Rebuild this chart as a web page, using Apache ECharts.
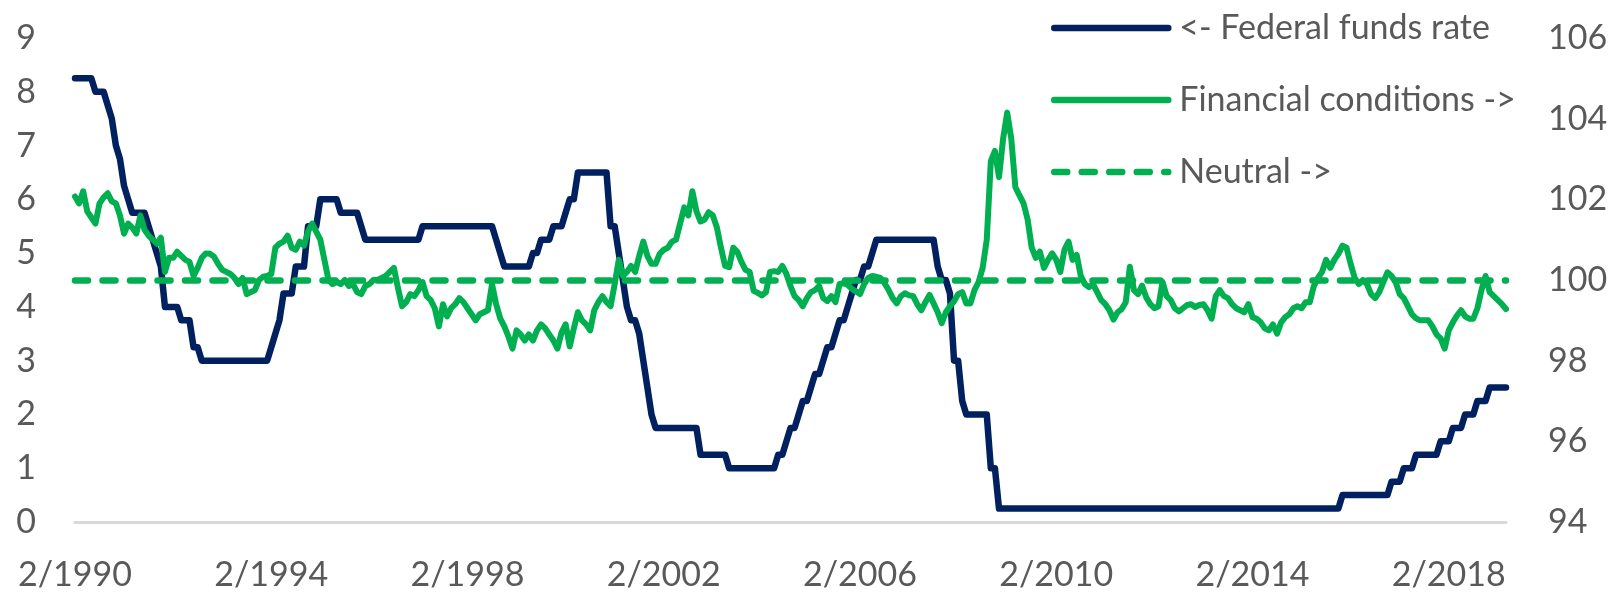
<!DOCTYPE html>
<html>
<head>
<meta charset="utf-8">
<script src="https://cdn.jsdelivr.net/npm/echarts@6/dist/echarts.min.js"></script>
<style>
  html, body { margin: 0; padding: 0; background: #ffffff; }
  #chart { width: 1612px; height: 595px; }
</style>
</head>
<body>
<div id="chart"></div>
<script>
// Monthly observations, February 1990 through April 2019
const START_YEAR = 1990;
const START_MONTH = 2;
const MONTH_COUNT = 351;

// Federal funds target rate (upper bound after 2008), end of month, %
const FED_FUNDS = [
  8.25, 8.25, 8.25, 8.25, 8.25, 8, 8, 8, 7.75, 7.5, 7,
  6.75, 6.25, 6, 5.75, 5.75, 5.75, 5.75, 5.5, 5.25, 5, 4.75, 4,
  4, 4, 4, 3.75, 3.75, 3.75, 3.25, 3.25, 3, 3, 3, 3,
  3, 3, 3, 3, 3, 3, 3, 3, 3, 3, 3, 3,
  3, 3.25, 3.5, 3.75, 4.25, 4.25, 4.25, 4.75, 4.75, 4.75, 5.5, 5.5,
  5.5, 6, 6, 6, 6, 6, 5.75, 5.75, 5.75, 5.75, 5.75, 5.5,
  5.25, 5.25, 5.25, 5.25, 5.25, 5.25, 5.25, 5.25, 5.25, 5.25, 5.25, 5.25,
  5.25, 5.25, 5.5, 5.5, 5.5, 5.5, 5.5, 5.5, 5.5, 5.5, 5.5, 5.5,
  5.5, 5.5, 5.5, 5.5, 5.5, 5.5, 5.5, 5.5, 5.25, 5, 4.75, 4.75,
  4.75, 4.75, 4.75, 4.75, 4.75, 5, 5, 5.25, 5.25, 5.25, 5.5, 5.5,
  5.5, 5.75, 6, 6, 6.5, 6.5, 6.5, 6.5, 6.5, 6.5, 6.5, 6.5,
  5.5, 5.5, 5, 4.5, 4, 3.75, 3.75, 3.5, 3, 2.5, 2, 1.75,
  1.75, 1.75, 1.75, 1.75, 1.75, 1.75, 1.75, 1.75, 1.75, 1.75, 1.25, 1.25,
  1.25, 1.25, 1.25, 1.25, 1.25, 1, 1, 1, 1, 1, 1, 1,
  1, 1, 1, 1, 1, 1.25, 1.25, 1.5, 1.75, 1.75, 2, 2.25,
  2.25, 2.5, 2.75, 2.75, 3, 3.25, 3.25, 3.5, 3.75, 3.75, 4, 4.25,
  4.5, 4.5, 4.75, 4.75, 5, 5.25, 5.25, 5.25, 5.25, 5.25, 5.25, 5.25,
  5.25, 5.25, 5.25, 5.25, 5.25, 5.25, 5.25, 5.25, 4.75, 4.5, 4.5, 4.25,
  3, 3, 2.25, 2, 2, 2, 2, 2, 2, 1, 1, 0.25,
  0.25, 0.25, 0.25, 0.25, 0.25, 0.25, 0.25, 0.25, 0.25, 0.25, 0.25, 0.25,
  0.25, 0.25, 0.25, 0.25, 0.25, 0.25, 0.25, 0.25, 0.25, 0.25, 0.25, 0.25,
  0.25, 0.25, 0.25, 0.25, 0.25, 0.25, 0.25, 0.25, 0.25, 0.25, 0.25, 0.25,
  0.25, 0.25, 0.25, 0.25, 0.25, 0.25, 0.25, 0.25, 0.25, 0.25, 0.25, 0.25,
  0.25, 0.25, 0.25, 0.25, 0.25, 0.25, 0.25, 0.25, 0.25, 0.25, 0.25, 0.25,
  0.25, 0.25, 0.25, 0.25, 0.25, 0.25, 0.25, 0.25, 0.25, 0.25, 0.25, 0.25,
  0.25, 0.25, 0.25, 0.25, 0.25, 0.25, 0.25, 0.25, 0.25, 0.25, 0.25, 0.5,
  0.5, 0.5, 0.5, 0.5, 0.5, 0.5, 0.5, 0.5, 0.5, 0.5, 0.5, 0.75,
  0.75, 0.75, 1, 1, 1, 1.25, 1.25, 1.25, 1.25, 1.25, 1.25, 1.5,
  1.5, 1.5, 1.75, 1.75, 1.75, 2, 2, 2, 2.25, 2.25, 2.25, 2.5,
  2.5, 2.5, 2.5, 2.5
];

// Financial conditions index, monthly (right axis)
const FIN_CONDITIONS = [
  102.07, 101.9, 102.2, 101.7, 101.55, 101.4, 101.9, 102.05, 102.15, 101.95, 101.9,
  101.6, 101.15, 101.4, 101.3, 101.15, 101.6, 101.25, 101.1, 101.0, 100.9, 101.05, 100.2,
  100.55, 100.55, 100.7, 100.6, 100.5, 100.45, 100.1, 100.3, 100.55, 100.66, 100.65, 100.58,
  100.4, 100.25, 100.2, 100.15, 100.05, 99.9, 100.05, 99.65, 99.7, 99.75, 100.0, 100.08,
  100.1, 100.15, 100.8, 100.9, 100.95, 101.1, 100.8, 100.75, 100.95, 100.85, 101.2, 101.4,
  101.2, 101.0, 100.5, 100.0, 99.9, 99.95, 99.9, 100.0, 99.85, 99.9, 99.7, 99.65,
  99.85, 99.9, 100.0, 100.0, 100.05, 100.1, 100.2, 100.3, 99.8, 99.35, 99.45, 99.65,
  99.6, 99.75, 99.95, 99.6, 99.5, 99.3, 98.85, 99.4, 99.1, 99.3, 99.4, 99.55,
  99.45, 99.3, 99.15, 99.0, 99.15, 99.2, 99.25, 99.9, 99.4, 99.05, 98.85, 98.6,
  98.3, 98.75, 98.65, 98.5, 98.65, 98.5, 98.75, 98.9, 98.8, 98.65, 98.5, 98.3,
  98.7, 98.9, 98.35, 98.8, 99.2, 99.0, 98.9, 98.75, 99.25, 99.45, 99.6, 99.45,
  99.35, 99.9, 100.5, 100.1, 100.2, 100.35, 100.2, 100.6, 100.95, 100.6, 100.4, 100.4,
  100.65, 100.75, 100.8, 100.95, 101.0, 101.4, 101.8, 101.6, 102.2, 101.7, 101.45, 101.5,
  101.68, 101.6, 101.3, 100.8, 100.35, 100.32, 100.8, 100.7, 100.45, 100.25, 100.2, 99.73,
  99.68, 99.62, 99.7, 100.2, 100.22, 100.2, 100.35, 100.15, 99.85, 99.6, 99.5, 99.35,
  99.55, 99.7, 99.75, 99.85, 99.55, 99.48, 99.6, 99.45, 99.9, 99.92, 99.88, 99.78,
  99.72, 99.65, 99.9, 100.05, 100.1, 100.08, 100.05, 99.92, 99.75, 99.55, 99.42, 99.6,
  99.67, 99.62, 99.6, 99.4, 99.25, 99.45, 99.63, 99.42, 99.2, 98.93, 99.2, 99.35,
  99.47, 99.65, 99.7, 99.42, 99.42, 99.75, 99.95, 100.3, 101.0, 102.95, 103.2, 102.55,
  103.5, 104.15, 103.5, 102.3, 102.1, 101.9, 101.5, 100.8, 100.55, 100.7, 100.3, 100.5,
  100.66, 100.5, 100.2, 100.75, 100.95, 100.5, 100.62, 100.1, 99.9, 99.82, 99.9, 99.7,
  99.5, 99.4, 99.25, 99.02, 99.2, 99.28, 99.45, 100.33, 99.75, 99.65, 99.86, 99.57,
  99.4, 99.3, 99.35, 99.95, 99.6, 99.5, 99.3, 99.22, 99.3, 99.38, 99.4, 99.33,
  99.38, 99.4, 99.25, 99.04, 99.6, 99.75, 99.6, 99.55, 99.4, 99.3, 99.25, 99.2,
  99.4, 99.08, 99.04, 98.95, 98.8, 98.75, 98.9, 98.67, 98.95, 99.08, 99.15, 99.3,
  99.35, 99.3, 99.45, 99.45, 99.85, 100.05, 100.2, 100.5, 100.3, 100.5, 100.65, 100.85,
  100.8, 100.4, 100.05, 99.9, 100.0, 99.9, 99.65, 99.55, 99.7, 99.95, 100.19, 100.1,
  99.95, 99.65, 99.55, 99.35, 99.15, 99.05, 99.0, 99.0, 99.0, 98.85, 98.65, 98.55,
  98.3, 98.75, 98.95, 99.12, 99.25, 99.1, 99.04, 99.04, 99.3, 99.75, 100.1, 99.7,
  99.6, 99.5, 99.4, 99.28
];

// Neutral level of the financial conditions index
const NEUTRAL_LEVEL = 100;

// Axis ranges and ticks
const LEFT_AXIS = { min: 0, max: 9, step: 1 };
const RIGHT_AXIS = { min: 94, max: 106, step: 2 };
const LABEL_EVERY = 48; // one label every four years

const SERIES_NAMES = ['<- Federal funds rate', 'Financial conditions ->', 'Neutral ->'];

// Month categories "M/YYYY"
const categories = [];
for (let i = 0; i < MONTH_COUNT; i++) {
  const m0 = START_MONTH - 1 + i;
  categories.push((m0 % 12 + 1) + '/' + (START_YEAR + Math.floor(m0 / 12)));
}

const NAVY = '#002060';
const GREEN = '#00B050';
const TEXT = '#595959';
const FONT = 'Lato';
const FS = 34;
const DASH = [13, 14.5];

const chart = echarts.init(document.getElementById('chart'), null, { renderer: 'canvas' });

chart.setOption({
  animation: false,
  backgroundColor: '#ffffff',
  grid: { left: 75, right: 106, top: 38, bottom: 73, containLabel: false },
  legend: {
    orient: 'vertical',
    left: 1046,
    top: 3,
    itemWidth: 114,
    itemHeight: 6,
    itemGap: 32,
    selectedMode: false,
    data: SERIES_NAMES,
    lineStyle: { width: 6.5, cap: 'round' },
    textStyle: {
      fontFamily: FONT,
      fontSize: FS,
      color: TEXT,
      lineHeight: 40,
      padding: [0, 0, 0, 6]
    }
  },
  xAxis: {
    type: 'category',
    data: categories,
    boundaryGap: false,
    axisLine: { show: true, lineStyle: { color: '#D9D9D9', width: 3 } },
    axisTick: { show: false },
    splitLine: { show: false },
    axisLabel: {
      interval: LABEL_EVERY - 1,
      margin: 36,
      fontFamily: FONT,
      fontSize: FS,
      color: TEXT
    }
  },
  yAxis: [
    {
      type: 'value',
      position: 'left',
      min: LEFT_AXIS.min,
      max: LEFT_AXIS.max,
      interval: LEFT_AXIS.step,
      axisLine: { show: false },
      axisTick: { show: false },
      splitLine: { show: false },
      axisLabel: { margin: 39, fontFamily: FONT, fontSize: FS, color: TEXT }
    },
    {
      type: 'value',
      position: 'right',
      min: RIGHT_AXIS.min,
      max: RIGHT_AXIS.max,
      interval: RIGHT_AXIS.step,
      axisLine: { show: false },
      axisTick: { show: false },
      splitLine: { show: false },
      axisLabel: { margin: 42, fontFamily: FONT, fontSize: FS, color: TEXT }
    }
  ],
  series: [
    {
      name: SERIES_NAMES[0],
      type: 'line',
      yAxisIndex: 0,
      data: FED_FUNDS,
      symbol: 'none',
      z: 2,
      color: NAVY,
      lineStyle: { color: NAVY, width: 6.5, cap: 'round', join: 'round' }
    },
    {
      name: SERIES_NAMES[1],
      type: 'line',
      yAxisIndex: 1,
      data: FIN_CONDITIONS,
      symbol: 'none',
      z: 3,
      color: GREEN,
      lineStyle: { color: GREEN, width: 6, cap: 'round', join: 'round' }
    },
    {
      name: SERIES_NAMES[2],
      type: 'line',
      yAxisIndex: 1,
      data: [],
      symbol: 'none',
      z: 4,
      color: GREEN,
      lineStyle: { color: GREEN, width: 6.5, type: DASH, cap: 'round' },
      markLine: {
        silent: true,
        symbol: 'none',
        label: { show: false },
        lineStyle: { color: GREEN, width: 6.5, type: DASH, cap: 'round' },
        data: [{ yAxis: NEUTRAL_LEVEL }]
      }
    }
  ]
});
</script>
</body>
</html>
